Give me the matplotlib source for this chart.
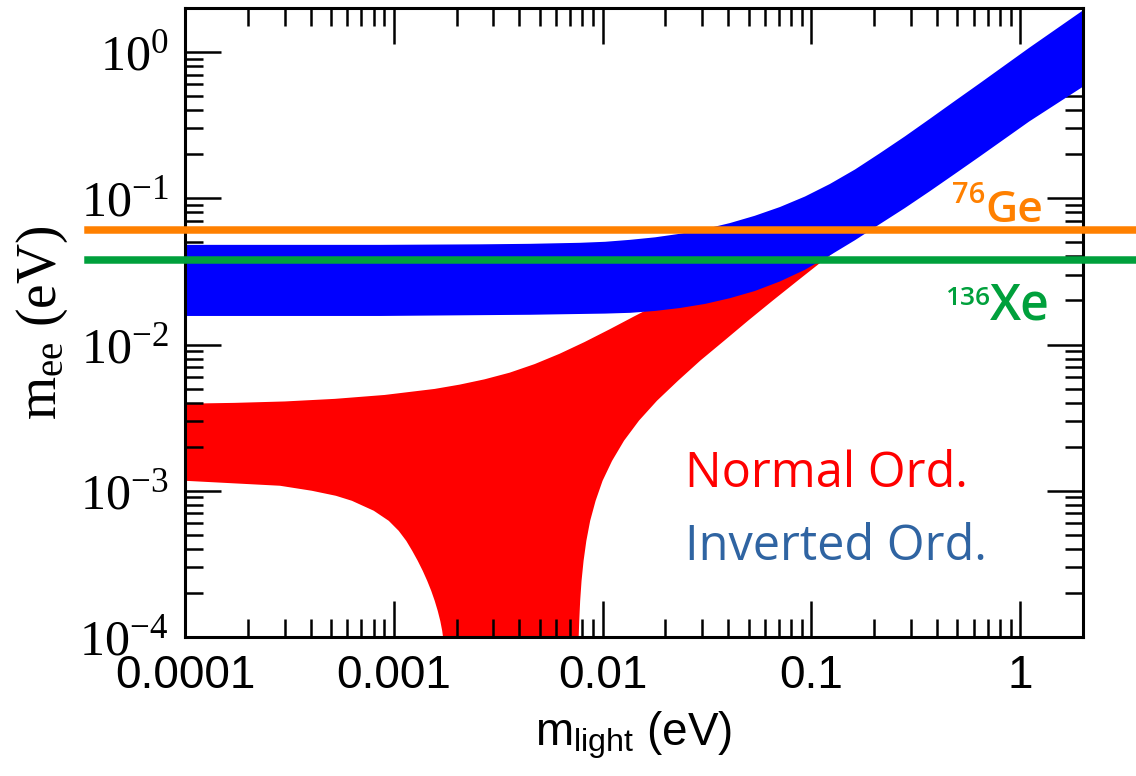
import numpy as np
import matplotlib
matplotlib.use('Agg')
import matplotlib.pyplot as plt
from matplotlib.ticker import LogLocator, FuncFormatter, NullFormatter

plt.rcParams['mathtext.fontset'] = 'custom'
plt.rcParams['mathtext.rm'] = 'Liberation Serif'
plt.rcParams['mathtext.sf'] = 'Liberation Sans'
plt.rcParams['mathtext.it'] = 'Liberation Serif:italic'
plt.rcParams['mathtext.bf'] = 'Liberation Serif:bold'

# inverted ordering band
io_x = [1.0e-4, 8.57e-4, 2.58e-3, 4.47e-3, 7.76e-3, 1.023e-2, 1.35e-2, 1.775e-2,
        2.33e-2, 3.08e-2, 4.05e-2, 5.33e-2, 7.03e-2, 9.27e-2, 0.122, 0.161,
        0.211, 0.279, 0.367, 0.483, 0.637, 1.10, 2.0]
io_upper = [0.0484, 0.0484, 0.0488, 0.0492, 0.0500, 0.0508, 0.0524, 0.0545,
            0.0576, 0.0621, 0.0682, 0.0765, 0.0878, 0.1036, 0.1262, 0.1586,
            0.2041, 0.2669, 0.3517, 0.4654, 0.6157, 1.078, 1.952]
io_lower = [0.0158, 0.0158, 0.0160, 0.0161, 0.0163, 0.0164, 0.0166, 0.0171,
            0.0179, 0.0191, 0.0209, 0.0234, 0.0272, 0.0327, 0.0410, 0.0521,
            0.0669, 0.0864, 0.1125, 0.1476, 0.1945, 0.3379, 0.5868]

# normal ordering band
no_up_x = [1.0e-4, 1.73e-4, 3.01e-4, 5.22e-4, 9.05e-4, 1.57e-3, 2.07e-3, 2.72e-3,
           3.59e-3, 4.73e-3, 6.22e-3, 8.20e-3, 1.08e-2, 1.42e-2, 1.87e-2, 2.47e-2,
           7.03e-2, 0.211, 0.637, 2.0]
no_upper = [3.94e-3, 3.99e-3, 4.08e-3, 4.25e-3, 4.52e-3, 4.97e-3, 5.32e-3, 5.78e-3,
            6.42e-3, 7.35e-3, 8.64e-3, 1.04e-2, 1.27e-2, 1.56e-2, 1.91e-2, 2.35e-2,
            6.53e-2, 0.188, 0.532, 1.79]
no_lo_x = [1.0e-4, 2.85e-4, 4.05e-4, 5.28e-4, 6.30e-4, 8.02e-4, 9.46e-4, 1.056e-3,
           1.148e-3, 1.226e-3, 1.302e-3, 1.377e-3, 1.446e-3, 1.511e-3, 1.571e-3,
           1.624e-3, 1.670e-3, 1.706e-3, 1.725e-3, 1.74e-3,
           7.60e-3, 7.68e-3, 7.73e-3, 7.81e-3, 7.93e-3, 8.11e-3, 8.36e-3, 8.72e-3,
           9.26e-3, 1.0e-2, 1.11e-2, 1.267e-2, 1.495e-2, 1.823e-2, 2.30e-2, 2.94e-2,
           3.835e-2, 4.99e-2, 6.54e-2, 8.62e-2, 0.1141, 0.1415, 0.1773, 0.2235,
           0.457, 0.794, 1.38, 2.0]
no_lower = [1.17e-3, 1.082e-3, 1.0e-3, 9.24e-4, 8.54e-4, 7.30e-4, 6.23e-4, 5.32e-4,
            4.54e-4, 3.88e-4, 3.32e-4, 2.83e-4, 2.42e-4, 2.07e-4, 1.765e-4,
            1.507e-4, 1.287e-4, 1.10e-4, 9.8e-5, 1e-5,
            1e-5, 9.8e-5, 1.287e-4, 1.765e-4, 2.42e-4, 3.32e-4, 4.54e-4, 6.23e-4,
            8.54e-4, 1.17e-3, 1.60e-3, 2.20e-3, 3.02e-3, 4.13e-3, 5.66e-3, 7.77e-3,
            1.065e-2, 1.46e-2, 2.00e-2, 2.74e-2, 3.76e-2, 4.77e-2, 6.04e-2, 7.65e-2,
            0.144, 0.250, 0.427, 0.604]

# experimental limits
ge_limit = 0.0604
xe_limit = 0.0376

fig = plt.figure(figsize=(11.36, 7.76), dpi=100)
ax = fig.add_axes([185/1136, 1-637/776, 898/1136, 629/776])

ax.fill(no_up_x + no_lo_x[::-1], no_upper + no_lower[::-1], color='#ff0000', lw=0, zorder=1)
ax.fill_between(io_x, io_lower, io_upper, color='#0000ff', lw=0, zorder=2)

ax.axhline(ge_limit, xmin=-0.108, xmax=1.06, color='#ff8000', lw=5.4, clip_on=False, zorder=5)
ax.axhline(xe_limit, xmin=-0.108, xmax=1.06, color='#00a03c', lw=5.4, clip_on=False, zorder=5)

ax.set_xscale('log')
ax.set_yscale('log')
ax.set_xlim(1e-4, 2.0)
ax.set_ylim(1e-4, 2.0)

ax.xaxis.set_major_locator(LogLocator(base=10, numticks=10))
ax.yaxis.set_major_locator(LogLocator(base=10, numticks=10))
ax.xaxis.set_minor_locator(LogLocator(base=10, subs=np.arange(2, 10), numticks=20))
ax.yaxis.set_minor_locator(LogLocator(base=10, subs=np.arange(2, 10), numticks=20))
ax.xaxis.set_minor_formatter(NullFormatter())
ax.yaxis.set_minor_formatter(NullFormatter())

xlabels = {-4: '0.0001', -3: '0.001', -2: '0.01', -1: '0.1', 0: '1'}
ax.xaxis.set_major_formatter(FuncFormatter(lambda v, p: xlabels.get(int(round(np.log10(v))), '')))
ax.yaxis.set_major_formatter(FuncFormatter(lambda v, p: r'$\mathrm{10^{%d}}$' % int(round(np.log10(v)))))

ax.tick_params(which='both', direction='in', top=True, right=True)
ax.tick_params(which='major', length=26, width=1.8)
ax.tick_params(which='minor', length=13, width=1.8)
ax.tick_params(axis='x', which='major', pad=12, labelsize=33)
ax.tick_params(axis='y', which='major', pad=12, labelsize=36)
for lab in ax.get_xticklabels():
    lab.set_family('Liberation Sans')
for lab in ax.get_yticklabels():
    lab.set_family('Liberation Serif')
for s in ax.spines.values():
    s.set_linewidth(2.2)

ax.set_xlabel(r'm$_{\mathsf{light}}$ (eV)', family='Liberation Sans', fontsize=33)
ax.set_ylabel(r'm$_{\mathrm{ee}}$ (eV)', family='Liberation Serif', fontsize=40)
ax.xaxis.set_label_coords(0.5, -0.115)
ax.yaxis.set_label_coords(-0.128, 0.5)

ax.text(0.557, 0.2385, 'Normal Ord.', color='#ff0000', family='Open Sans', fontsize=35,
        transform=ax.transAxes, va='baseline')
ax.text(0.557, 0.1224, 'Inverted Ord.', color='#2f64a2', family='Open Sans', fontsize=35,
        transform=ax.transAxes, va='baseline')

ax.text(0.891, 0.660, 'Ge', color='#ff8000', family='Open Sans', weight='semibold', fontsize=32,
        transform=ax.transAxes, va='baseline')
ax.text(0.891, 0.690, '76', color='#ff8000', family='Open Sans', weight='semibold', fontsize=21,
        transform=ax.transAxes, va='baseline', ha='right')
ax.text(0.896, 0.504, 'Xe', color='#00a03c', family='Open Sans', weight='semibold', fontsize=36,
        transform=ax.transAxes, va='baseline')
ax.text(0.896, 0.528, '136', color='#00a03c', family='Open Sans', weight='semibold', fontsize=19,
        transform=ax.transAxes, va='baseline', ha='right')

plt.savefig('out.png', dpi=100)
